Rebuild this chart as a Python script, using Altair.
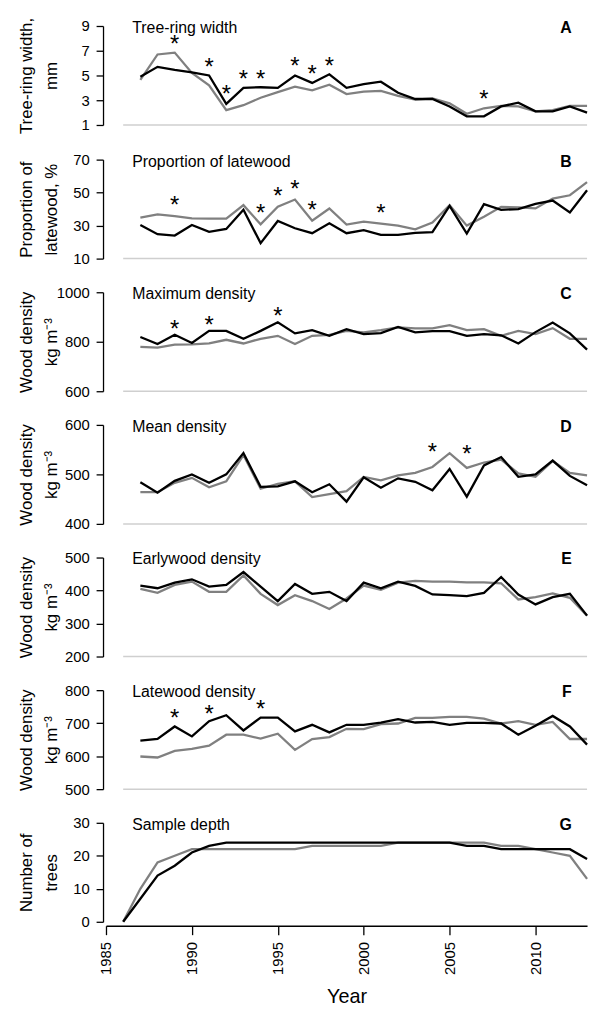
import altair as alt
import pandas as pd

FONT = "Liberation Sans"
GRAY = "#808080"

years = list(range(1987, 2014))
years_g = list(range(1986, 2014))
x_ticks = [1985, 1990, 1995, 2000, 2005, 2010]

trw_black = [4.9, 5.7, 5.45, 5.25, 5.0, 2.7, 4.0, 4.05, 4.0, 5.0, 4.4, 5.1, 4.0, 4.3, 4.5, 3.6, 3.1, 3.1, 2.5, 1.7, 1.7, 2.5, 2.8, 2.1, 2.1, 2.5, 2.0]
trw_gray = [4.65, 6.7, 6.85, 5.2, 4.2, 2.2, 2.6, 3.2, 3.65, 4.1, 3.8, 4.25, 3.5, 3.7, 3.75, 3.35, 3.05, 3.15, 2.75, 1.9, 2.35, 2.55, 2.5, 2.1, 2.2, 2.55, 2.55]
trw_star_years = [1989, 1991, 1992, 1993, 1994, 1996, 1997, 1998, 2007]
trw_star_vals = [7.9, 6.1, 3.9, 5.15, 5.15, 6.15, 5.55, 6.2, 3.5]

lw_black = [30.4, 24.8, 24, 30.4, 26.2, 28, 39.6, 19.4, 32.8, 28.4, 25.4, 31.4, 25.4, 27.2, 24.4, 24.4, 25.6, 26, 42, 25.2, 43, 39.6, 40, 43.2, 45.2, 38, 51.4]
lw_gray = [34.8, 36.8, 35.8, 34.4, 34.2, 34.2, 42.4, 30.8, 41.4, 45.8, 33, 40.4, 30.6, 32.4, 31.2, 30, 27.8, 31.8, 42.4, 30, 35.4, 41.4, 41, 40.4, 46.4, 48.4, 56.4]
lw_star_years = [1989, 1994, 1995, 1996, 1997, 2001]
lw_star_vals = [45.4, 40.4, 51, 55.4, 42.4, 40.8]

maxd_black = [819, 791, 828, 795, 844, 844, 812, 844, 879, 834, 847, 824, 851, 831, 835, 860, 838, 843, 843, 824, 831, 826, 793, 839, 878, 834, 768]
maxd_gray = [779, 776, 788, 789, 793, 808, 793, 812, 824, 791, 824, 828, 844, 838, 847, 858, 854, 854, 867, 847, 851, 824, 844, 831, 855, 812, 812]
maxd_star_years = [1989, 1991, 1995]
maxd_star_vals = [872, 886, 922]

mean_black = [484, 463, 487, 500, 483, 500, 543, 475, 476, 486, 464, 480, 445, 494, 473, 492, 485, 468, 511, 455, 518, 535, 495, 500, 528, 497, 478]
mean_gray = [464, 464, 483, 493, 474, 486, 539, 471, 481, 486, 454, 460, 466, 495, 488, 498, 503, 515, 543, 513, 524, 530, 502, 495, 527, 503, 498]
mean_star_years = [2004, 2006]
mean_star_vals = [555, 551]

ew_black = [415, 407, 424, 434, 412, 417, 456, 412, 368, 420, 390, 396, 368, 424, 407, 427, 414, 388, 386, 383, 393, 441, 388, 358, 380, 390, 324]
ew_gray = [405, 393, 417, 427, 396, 396, 446, 390, 356, 386, 368, 344, 376, 415, 402, 424, 429, 427, 427, 425, 425, 422, 373, 380, 391, 378, 324]

lwd_black = [647, 652, 690, 660, 706, 724, 678, 717, 717, 675, 695, 672, 695, 695, 702, 712, 702, 704, 695, 701, 701, 699, 665, 692, 722, 690, 635]
lwd_gray = [599, 596, 616, 622, 632, 665, 665, 653, 668, 619, 652, 658, 683, 682, 697, 699, 716, 716, 719, 719, 714, 699, 706, 695, 704, 652, 652]
lwd_star_years = [1989, 1991, 1994]
lwd_star_vals = [729, 742, 757]

depth_black = [0, 7, 14, 17, 21, 23, 24, 24, 24, 24, 24, 24, 24, 24, 24, 24, 24, 24, 24, 24, 23, 23, 22, 22, 22, 22, 22, 19]
depth_gray = [0, 10, 18, 20, 22, 22, 22, 22, 22, 22, 22, 23, 23, 23, 23, 23, 24, 24, 24, 24, 24, 24, 23, 23, 22, 21, 20, 13]

PANEL_W = 486
PANEL_H = 100


def make_panel(yrs, black, gray, ydom, yticks, ytitle, name, letter,
               star_years=None, star_vals=None, bottom=False):
    df = pd.DataFrame({
        "year": yrs + yrs,
        "value": black + gray,
        "series": ["black"] * len(yrs) + ["gray"] * len(yrs),
    })
    xscale = alt.Scale(domain=[x_ticks[0], years[-1]], nice=False, zero=False)
    yscale = alt.Scale(domain=ydom, nice=False, zero=False)
    if bottom:
        xaxis = alt.Axis(values=x_ticks, format="d", labelAngle=270,
                         labelFontSize=15, labelPadding=7, tickSize=9,
                         tickWidth=1.3, domainWidth=1.3, offset=4,
                         labelFlush=False, title="Year", titleFontSize=20,
                         titlePadding=12, grid=False)
    else:
        xaxis = None
    yaxis = alt.Axis(values=yticks, format="d", title=ytitle, titleAngle=270,
                     titleX=-77.5, titleBaseline="middle", titleAlign="center",
                     titleFontSize=17, titleLineHeight=26,
                     labelFontSize=15, labelPadding=7, tickSize=7,
                     tickWidth=1.3, domainWidth=1.3, offset=3, grid=False)
    X = alt.X("year:Q", scale=xscale, axis=xaxis)
    Y = alt.Y("value:Q", scale=yscale, axis=yaxis)

    base = alt.Chart(df)
    layers = []
    if not bottom:
        rule_df = pd.DataFrame({"year": [years_g[0]], "year2": [years_g[-1]],
                                "value": [ydom[0]]})
        layers.append(alt.Chart(rule_df).mark_rule(color="#cfcfcf", strokeWidth=1.5)
                      .encode(x=X, x2="year2:Q", y=Y))
    layers.append(base.transform_filter(alt.datum.series == "gray")
                  .mark_line(color=GRAY, strokeWidth=2.3).encode(x=X, y=Y))
    layers.append(base.transform_filter(alt.datum.series == "black")
                  .mark_line(color="black", strokeWidth=2.3).encode(x=X, y=Y))
    if star_years:
        sdf = pd.DataFrame({"year": star_years, "value": star_vals})
        layers.append(alt.Chart(sdf).mark_text(text="*", fontSize=24, dy=13,
                                               baseline="alphabetic", font=FONT,
                                               color="black")
                      .encode(x=X, y=Y))
    tdf = pd.DataFrame({"name": [name], "letter": [letter]})
    layers.append(alt.Chart(tdf).mark_text(align="left", baseline="alphabetic",
                                           fontSize=16, font=FONT, color="black")
                  .encode(x=alt.value(26.5), y=alt.value(7), text="name:N"))
    layers.append(alt.Chart(tdf).mark_text(align="right", baseline="alphabetic",
                                           fontSize=16, fontWeight="bold",
                                           font=FONT, color="black")
                  .encode(x=alt.value(470.5), y=alt.value(7), text="letter:N"))
    return alt.layer(*layers).properties(width=PANEL_W, height=PANEL_H)


density_title = ["Wood density", "kg m\u207b\u00b3"]

panels = [
    make_panel(years, trw_black, trw_gray, [1, 9], [1, 3, 5, 7, 9],
               ["Tree-ring width,", "mm"], "Tree-ring width", "A",
               trw_star_years, trw_star_vals),
    make_panel(years, lw_black, lw_gray, [10, 70], [10, 30, 50, 70],
               ["Proportion of", "latewood, %"], "Proportion of latewood", "B",
               lw_star_years, lw_star_vals),
    make_panel(years, maxd_black, maxd_gray, [600, 1000], [600, 800, 1000],
               density_title, "Maximum density", "C",
               maxd_star_years, maxd_star_vals),
    make_panel(years, mean_black, mean_gray, [400, 600], [400, 500, 600],
               density_title, "Mean density", "D",
               mean_star_years, mean_star_vals),
    make_panel(years, ew_black, ew_gray, [200, 500], [200, 300, 400, 500],
               density_title, "Earlywood density", "E"),
    make_panel(years, lwd_black, lwd_gray, [500, 800], [500, 600, 700, 800],
               density_title, "Latewood density", "F",
               lwd_star_years, lwd_star_vals),
    make_panel(years_g, depth_black, depth_gray, [0, 30], [0, 10, 20, 30],
               ["Number of", "trees"], "Sample depth", "G", bottom=True),
]

chart = (
    alt.vconcat(*panels, spacing=19)
    .properties(padding={"left": 9, "top": 4, "right": 0, "bottom": 5},
                background="white")
    .configure_view(stroke=None)
    .configure_axis(labelFont=FONT, titleFont=FONT, labelColor="black",
                    titleColor="black", domainColor="black", tickColor="black",
                    titleFontWeight="normal")
)

chart.save("out.html", embed_options={"renderer": "svg", "actions": False})
